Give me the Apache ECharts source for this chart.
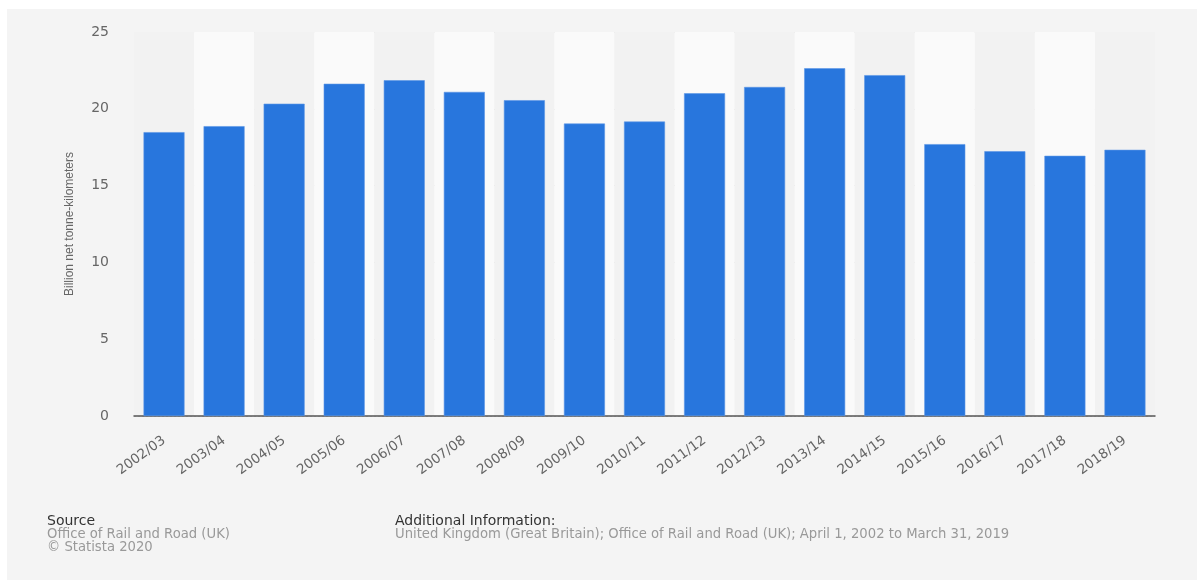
<!DOCTYPE html>
<html>
<head>
<meta charset="utf-8">
<script src="https://cdn.jsdelivr.net/npm/echarts@6/dist/echarts.min.js"></script>
<style>
html,body{margin:0;padding:0;background:#ffffff;}
#wrap{position:absolute;left:7px;top:9px;width:1190px;height:571px;background:#f4f4f4;}
#chart{position:absolute;left:-7px;top:-9px;width:1197px;height:580px;}
</style>
</head>
<body>
<div id="wrap"><div id="chart"></div></div>
<script>
const categories = ['2002/03','2003/04','2004/05','2005/06','2006/07','2007/08','2008/09','2009/10','2010/11','2011/12','2012/13','2013/14','2014/15','2015/16','2016/17','2017/18','2018/19'];
const values = [18.48, 18.87, 20.33, 21.63, 21.86, 21.1, 20.56, 19.04, 19.17, 21.01, 21.42, 22.64, 22.19, 17.7, 17.24, 16.94, 17.33];
const yTicks = { min: 0, max: 25, interval: 5 };
const yTitle = 'Billion net tonne-kilometers';
const sourceTitle = 'Source';
const sourceLines = ['Office of Rail and Road (UK)', '© Statista 2020'];
const infoTitle = 'Additional Information:';
const infoLine = 'United Kingdom (Great Britain); Office of Rail and Road (UK); April 1, 2002 to March 31, 2019';

const chart = echarts.init(document.getElementById('chart'), null, {renderer: 'canvas'});
const WIDE = '"DejaVu Sans", Verdana, sans-serif';
const NARROW = '"Liberation Sans", Arial, sans-serif';
chart.setOption({
  backgroundColor: 'transparent',
  animation: false,
  grid: { left: 134, right: 42, top: 32, bottom: 164, containLabel: false },
  xAxis: {
    type: 'category',
    data: categories,
    axisLine: { show: true, lineStyle: { color: '#555555', width: 1.5 } },
    axisTick: { show: false },
    splitArea: { show: true, areaStyle: { color: ['#f2f2f2', '#fafafa'] } },
    axisLabel: { rotate: 36, color: '#666666', fontSize: 13.5, fontFamily: WIDE, margin: 23, interval: 0 }
  },
  yAxis: {
    type: 'value',
    min: yTicks.min, max: yTicks.max, interval: yTicks.interval,
    name: yTitle,
    nameLocation: 'middle',
    nameGap: 58,
    nameTextStyle: { color: '#666666', fontSize: 12, fontFamily: NARROW },
    axisLine: { show: false },
    axisTick: { show: false },
    axisLabel: { color: '#666666', fontSize: 14, fontFamily: WIDE, margin: 25 },
    splitLine: { show: true, lineStyle: { color: '#d6d6d6', type: [2, 2], width: 1 } }
  },
  series: [{
    type: 'bar',
    data: values,
    barWidth: 41,
    itemStyle: { color: '#2876dd', borderColor: '#5a96e6', borderWidth: 0.6 },
    z: 3
  }],
  graphic: [
    { type: 'text', x: 47, y: 521, style: { text: sourceTitle, fill: '#333333', font: '14px ' + WIDE, verticalAlign: 'middle' } },
    { type: 'text', x: 47, y: 535, style: { text: sourceLines[0], fill: '#999999', font: '13.2px ' + WIDE, verticalAlign: 'middle' } },
    { type: 'text', x: 47, y: 548, style: { text: sourceLines[1], fill: '#999999', font: '13.2px ' + WIDE, verticalAlign: 'middle' } },
    { type: 'text', x: 395, y: 521, style: { text: infoTitle, fill: '#333333', font: '14px ' + WIDE, verticalAlign: 'middle' } },
    { type: 'text', x: 395, y: 535, style: { text: infoLine, fill: '#999999', font: '13.2px ' + WIDE, verticalAlign: 'middle' } }
  ]
});
</script>
</body>
</html>
